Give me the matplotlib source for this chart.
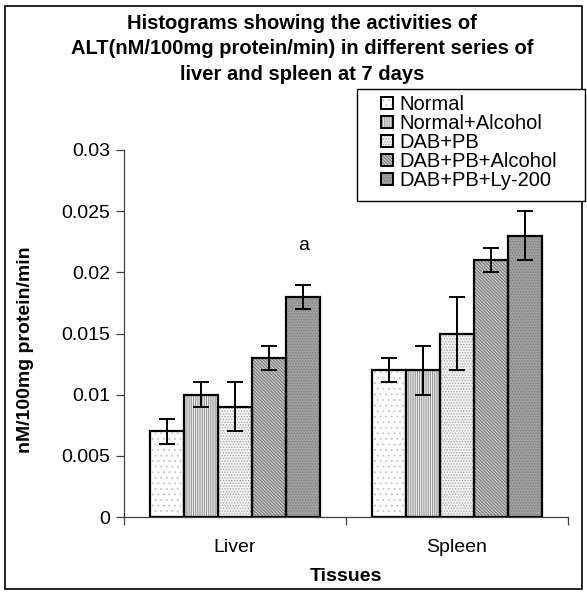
# ── ALT activity bar chart (liver / spleen, 7 days) ──
import numpy as np
import matplotlib
matplotlib.use("Agg")
import matplotlib.pyplot as plt
from matplotlib.patches import Patch, Rectangle
from matplotlib.legend_handler import HandlerTuple
from matplotlib.ticker import FuncFormatter

# ── data ─────────────────────────────────────
tissues = ["Liver", "Spleen"]
series = ["Normal", "Normal+Alcohol", "DAB+PB", "DAB+PB+Alcohol", "DAB+PB+Ly-200"]
means = [
    [0.007, 0.012],
    [0.010, 0.012],
    [0.009, 0.015],
    [0.013, 0.021],
    [0.018, 0.023],
]
errors = [
    [0.001, 0.001],
    [0.001, 0.002],
    [0.002, 0.003],
    [0.001, 0.001],
    [0.001, 0.002],
]
y_ticks = [0, 0.005, 0.01, 0.015, 0.02, 0.025, 0.03]

# ── styles ───────────────────────────────────
faces   = ["white", "white", "#f4f4f4", "#c8c8c8", "#a0a0a0"]
hatches = ["...", "|" * 9, "." * 6, "\\" * 10, "." * 6]
hcolors = ["#c8c8c8", "#8c8c8c", "#a8a8a8", "#707070", "#808080"]
FS = 14

plt.rcParams["font.family"] = ["Liberation Sans", "DejaVu Sans"]
plt.rcParams["hatch.linewidth"] = 0.7

fig = plt.figure(figsize=(5.87, 5.95), dpi=100)
ax = fig.add_axes([124 / 587, 1 - 517 / 595, 444 / 587, 367 / 595])

def fx(px):
    return px / 587

def fy(py):
    return 1 - py / 595

# outer chart frame
fig.patches.append(Rectangle((fx(5), fy(589)), 577 / 587, 583 / 595,
                             transform=fig.transFigure, fill=False,
                             edgecolor="black", lw=1.2))

x = np.arange(len(tissues))
width = 0.154
handles = []
for i, name in enumerate(series):
    pos = x + (i - 2) * width
    ax.bar(pos, means[i], width, color=faces[i], hatch=hatches[i],
           edgecolor=hcolors[i], lw=0, zorder=2)
    ax.bar(pos, means[i], width, fill=False, edgecolor="black", lw=1.6, zorder=3)
    ax.errorbar(pos, means[i], yerr=errors[i], fmt="none", ecolor="black",
                elinewidth=1.4, capsize=5.5, capthick=1.4, zorder=4)
    h1 = Patch(facecolor=faces[i], hatch=hatches[i], edgecolor=hcolors[i], lw=0)
    h2 = Patch(fill=False, edgecolor="black", lw=1.4)
    handles.append((h1, h2))

ax.text(x[0] + 2 * width, 0.0222, "a", ha="center", va="center", fontsize=FS)

ax.set_xlim(-0.5, 1.5)
ax.set_ylim(0, 0.03)
ax.set_yticks(y_ticks)
ax.yaxis.set_major_formatter(FuncFormatter(lambda v, p: "%g" % v))
ax.set_xticks([-0.5, 0.5, 1.5])
ax.set_xticklabels([])
ax.set_xticks(x, minor=True)
ax.set_xticklabels(tissues, minor=True, fontsize=FS)
ax.tick_params(axis="x", which="minor", length=0, pad=16)
ax.tick_params(axis="both", which="major", direction="out", length=6,
               width=0.9, color="#404040", labelsize=FS, pad=4)
for s in ["top", "right"]:
    ax.spines[s].set_visible(False)
for s in ["left", "bottom"]:
    ax.spines[s].set_color("#404040")
    ax.spines[s].set_linewidth(0.9)

ax.set_xlabel("Tissues", fontsize=FS, fontweight="bold")
ax.xaxis.set_label_coords(0.5, (517 - 568) / 367)
ax.set_ylabel("nM/100mg protein/min", fontsize=FS, fontweight="bold")
ax.yaxis.set_label_coords((34 - 124) / 444, (517 - 350) / 367)

fig.text(fx(302), fy(14),
         "Histograms showing the activities of\n"
         "ALT(nM/100mg protein/min) in different series of\n"
         "liver and spleen at 7 days",
         ha="center", va="top", fontsize=14.5, fontweight="bold",
         linespacing=1.42)

# legend frame drawn separately (Excel style wide left padding)
fig.patches.append(Rectangle((fx(357), fy(201)), 228 / 587, 112 / 595,
                             transform=fig.transFigure, facecolor="white",
                             edgecolor="black", lw=1.0, zorder=5))
leg = fig.legend(handles, series, handler_map={tuple: HandlerTuple(ndivide=1)},
                 loc="upper left", bbox_to_anchor=(fx(381), fy(95)),
                 bbox_transform=fig.transFigure, frameon=False,
                 fontsize=14.5, handlelength=0.6, handleheight=0.6,
                 handletextpad=0.3, labelspacing=0.0, borderpad=0.0,
                 borderaxespad=0)
leg.set_zorder(6)

fig.savefig("out.png", dpi=100)
